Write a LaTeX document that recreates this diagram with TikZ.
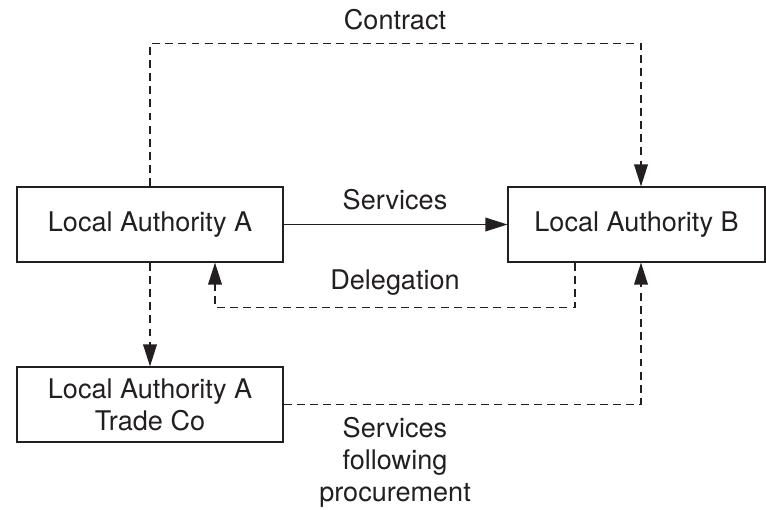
\documentclass[tikz,border=0pt]{standalone}
\usepackage{fontspec}
\setmainfont{TeX Gyre Heros}
\usetikzlibrary{arrows.meta}
\definecolor{ink}{RGB}{35,31,32}
\tikzset{
  box/.style={draw=ink,line width=0.7pt,minimum width=5.32cm,minimum height=1.5cm,align=center,text=ink},
  lbl/.style={text=ink,align=center},
  dashline/.style={draw=ink,line width=0.7pt,dash pattern=on 4.5pt off 3pt},
  solidline/.style={draw=ink,line width=0.7pt},
}
\begin{document}
\begin{tikzpicture}[>={Triangle[length=12.5pt,width=7.8pt]},font=\fontsize{15.4}{18.2}\selectfont]
        \useasboundingbox (0,0) rectangle (15.32,-10.18);
        \node[box] (A) at (3.0,-4.49) {Local Authority A};
        \node[box,minimum width=5.14cm] (B) at (12.73,-4.49) {Local Authority B};
        \node[box] (T) at (3.0,-8.09) {Local Authority A\\Trade Co};
        \node[lbl] (contract) at (7.9,-0.40) {Contract};
        \node[lbl] (services) at (7.9,-4.00) {Services};
        \node[lbl] (delegation) at (7.9,-5.66) {Delegation};
        \node[lbl] (procure) at (7.9,-9.24) {Services\\following\\procurement};
        % connectors
        \draw[dashline,->] (A.north) -- ++(0,2.86) -| ([xshift=0.09cm]B.north);
        \draw[solidline,->] (A.east) -- (B.west);
        \draw[dashline,->] ([xshift=-1.23cm]B.south) -- ++(0,-0.9) -| ([xshift=1.3cm]A.south);
        \draw[dashline,->] (A.south) -- (T.north);
        \draw[dashline,->] (T.east) -| ([xshift=0.09cm]B.south);
\end{tikzpicture}
\end{document}
